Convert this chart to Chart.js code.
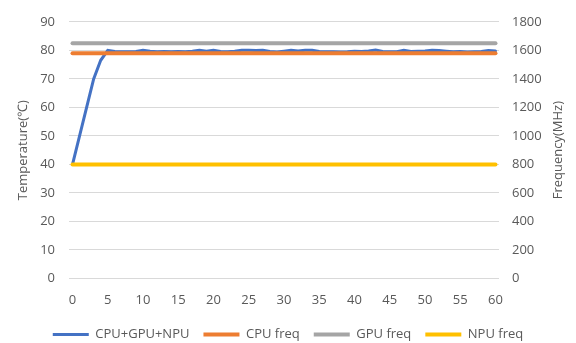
<!DOCTYPE html>
<html>
<head>
<meta charset="utf-8">
<script src="https://cdn.jsdelivr.net/npm/chart.js@4"></script>
<style>
  html, body { margin: 0; padding: 0; background: #fff; }
  #wrap { width: 576px; height: 343px; }
</style>
</head>
<body>
<div id="wrap"><canvas id="chart1"></canvas></div>
<script>
// time in seconds
const timeSec = [0, 1, 2, 3, 4, 5, 6, 7, 8, 9, 10, 11, 12, 13, 14, 15, 16, 17, 18, 19, 20,
  21, 22, 23, 24, 25, 26, 27, 28, 29, 30, 31, 32, 33, 34, 35, 36, 37, 38, 39, 40,
  41, 42, 43, 44, 45, 46, 47, 48, 49, 50, 51, 52, 53, 54, 55, 56, 57, 58, 59, 60];
const tempAll = [40, 50, 60, 70, 76.5, 80.0, 79.6, 79.5, 79.5, 79.6, 80.0, 79.7, 79.5, 79.6, 79.5, 79.6, 79.5, 79.7, 80.0, 79.7, 80.0,
  79.6, 79.5, 79.7, 80.0, 80.0, 79.9, 80.0, 79.6, 79.4, 79.7, 80.0, 79.8, 80.0, 80.0, 79.6, 79.5, 79.5, 79.4, 79.5, 79.7,
  79.6, 79.8, 80.1, 79.6, 79.5, 79.5, 80.0, 79.6, 79.7, 79.8, 80.0, 79.9, 79.7, 79.5, 79.6, 79.4, 79.5, 79.6, 79.9, 79.8];

// frequencies are flat over the whole run
const freqTime = [0, 60];
const cpuFreq = [1580, 1580];
const gpuFreq = [1650, 1650];
const npuFreq = [800, 800];

const xTicks = [0, 5, 10, 15, 20, 25, 30, 35, 40, 45, 50, 55, 60];
const seriesNames = ['CPU+GPU+NPU', 'CPU freq', 'GPU freq', 'NPU freq'];

const txt = '#595959';
const font = { family: 'Open Sans', size: 13 };

function pts(xs, ys) {
  return xs.map((x, i) => ({ x: x, y: ys[i] }));
}

// right title reads bottom-to-top like the left one
const rightTitle = {
  id: 'rightTitle',
  afterDraw(chart) {
    const c = chart.ctx;
    const area = chart.chartArea;
    c.save();
    c.translate(558, (area.top + area.bottom) / 2);
    c.rotate(-Math.PI / 2);
    c.font = '13px "Open Sans"';
    c.fillStyle = txt;
    c.textAlign = 'center';
    c.textBaseline = 'middle';
    c.fillText('Frequency(MHz)', 0, 0);
    c.restore();
  }
};

const ctx = document.getElementById('chart1').getContext('2d');
const chart = new Chart(ctx, {
  type: 'line',
  data: {
    datasets: [
      { label: seriesNames[0], data: pts(timeSec, tempAll), yAxisID: 'y', borderColor: '#4472C4', backgroundColor: '#4472C4', borderWidth: 3, order: 4 },
      { label: seriesNames[1], data: pts(freqTime, cpuFreq), yAxisID: 'y1', borderColor: '#ED7D31', backgroundColor: '#ED7D31', borderWidth: 4, order: 3 },
      { label: seriesNames[2], data: pts(freqTime, gpuFreq), yAxisID: 'y1', borderColor: '#A5A5A5', backgroundColor: '#A5A5A5', borderWidth: 4, order: 2 },
      { label: seriesNames[3], data: pts(freqTime, npuFreq), yAxisID: 'y1', borderColor: '#FFC000', backgroundColor: '#FFC000', borderWidth: 4, order: 1 }
    ]
  },
  options: {
    responsive: true,
    maintainAspectRatio: false,
    animation: false,
    elements: { point: { radius: 0 }, line: { tension: 0, borderCapStyle: 'round' } },
    layout: { padding: { bottom: -8 } },
    scales: {
      x: {
        type: 'linear',
        min: -0.5,
        max: 60.5,
        afterBuildTicks: s => { s.ticks = xTicks.map(v => ({ value: v })); },
        afterFit: s => { s.height = 35.5; },
        grid: { display: false },
        border: { display: false },
        ticks: { color: txt, font: font, padding: 6, maxRotation: 0 }
      },
      y: {
        position: 'left',
        min: 0,
        max: 90,
        afterFit: s => { s.width = 69; },
        grid: { color: '#d9d9d9', drawTicks: false },
        border: { display: false },
        ticks: { stepSize: 10, color: txt, font: font, padding: 14 },
        title: { display: true, text: 'Temperature(℃)', color: txt, font: font, padding: { top: 15, bottom: 0 } }
      },
      y1: {
        position: 'right',
        min: 0,
        max: 1800,
        afterFit: s => { s.width = 77; },
        grid: { display: false, drawTicks: false },
        border: { display: false },
        ticks: { stepSize: 200, color: txt, font: font, padding: 13, callback: v => String(v) }
      }
    },
    plugins: {
      tooltip: { enabled: false },
      legend: {
        position: 'bottom',
        labels: {
          usePointStyle: true,
          pointStyle: 'line',
          pointStyleWidth: 36,
          padding: 14,
          color: txt,
          font: font,
          sort: (a, b) => a.datasetIndex - b.datasetIndex
        }
      }
    }
  },
  plugins: [rightTitle]
});
</script>
</body>
</html>
